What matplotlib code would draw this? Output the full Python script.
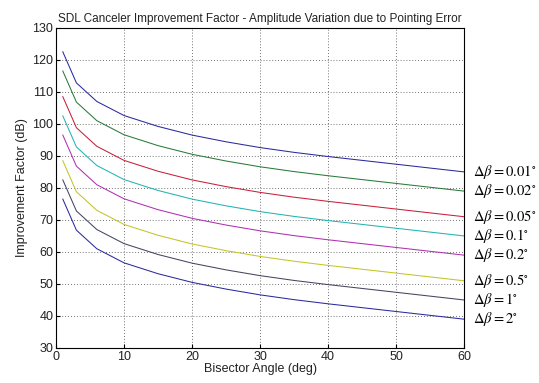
import matplotlib
matplotlib.use("Agg")
import matplotlib.pyplot as plt

# bisector angle samples (deg)
bisector = [1, 3, 6, 10, 15, 20, 25, 30, 35, 40, 45, 50, 55, 60]

# improvement factor (dB), one list per pointing error
if_001 = [122.5, 112.8, 107.0, 102.6, 99.2, 96.5, 94.4, 92.6, 91.1, 89.8, 88.6, 87.4, 86.2, 85.0]
if_002 = [116.5, 106.8, 101.0, 96.6, 93.2, 90.5, 88.4, 86.6, 85.1, 83.8, 82.6, 81.4, 80.2, 79.0]
if_005 = [108.5, 98.8, 93.0, 88.6, 85.2, 82.5, 80.4, 78.6, 77.1, 75.8, 74.6, 73.4, 72.2, 71.0]
if_01 = [102.5, 92.8, 87.0, 82.6, 79.2, 76.5, 74.4, 72.6, 71.1, 69.8, 68.6, 67.4, 66.2, 65.0]
if_02 = [96.5, 86.8, 81.0, 76.6, 73.2, 70.5, 68.4, 66.6, 65.1, 63.8, 62.6, 61.4, 60.2, 59.0]
if_05 = [88.5, 78.8, 73.0, 68.6, 65.2, 62.5, 60.4, 58.6, 57.1, 55.8, 54.6, 53.4, 52.2, 51.0]
if_1 = [82.5, 72.8, 67.0, 62.6, 59.2, 56.5, 54.4, 52.6, 51.1, 49.8, 48.6, 47.4, 46.2, 45.0]
if_2 = [76.5, 66.8, 61.0, 56.6, 53.2, 50.5, 48.4, 46.6, 45.1, 43.8, 42.6, 41.4, 40.2, 39.0]

series = [if_001, if_002, if_005, if_01, if_02, if_05, if_1, if_2]
labels = ["0.01", "0.02", "0.05", "0.1", "0.2", "0.5", "1", "2"]
# old matlab colour order, wraps back to blue
colors = ["#2a2aa0", "#2a7a3a", "#c8203c", "#22b4b4", "#b030b0",
          "#c4c428", "#454560", "#2a2aa0"]

plt.rcParams["font.family"] = ["Liberation Sans", "DejaVu Sans"]
plt.rcParams["mathtext.fontset"] = "stix"

fig = plt.figure(figsize=(5.39, 3.83), dpi=100)
ax = fig.add_axes([0.1039, 0.0914, 0.757, 0.836])

for ys, lab, c in zip(series, labels, colors):
    ax.plot(bisector, ys, color=c, linewidth=0.75)
    ax.annotate(r"$\Delta\beta = %s^{\circ}$" % lab, xy=(bisector[-1], ys[-1]),
                xytext=(6.5, 0), textcoords="offset points",
                va="center", ha="left", fontsize=10.5, annotation_clip=False)

ax.set_xlim(0, 60)
ax.set_ylim(30, 130)
ax.set_xticks(range(0, 61, 10))
ax.set_yticks(range(30, 131, 10))
ax.tick_params(direction="in", labelsize=9, length=3, pad=2, labelcolor="#222222")
ax.grid(True, linestyle=(0, (1, 2.5)), color="#444444", linewidth=0.6)
for s in ax.spines.values():
    s.set_linewidth(0.8)

ax.set_title("SDL Canceler Improvement Factor - Amplitude Variation due to Pointing Error",
             fontsize=8.5, pad=4, color="#222222")
ax.set_xlabel("Bisector Angle (deg)", fontsize=9, labelpad=0, color="#222222")
ax.set_ylabel("Improvement Factor (dB)", fontsize=9, labelpad=3, color="#222222")

fig.savefig("out.png", dpi=100)
